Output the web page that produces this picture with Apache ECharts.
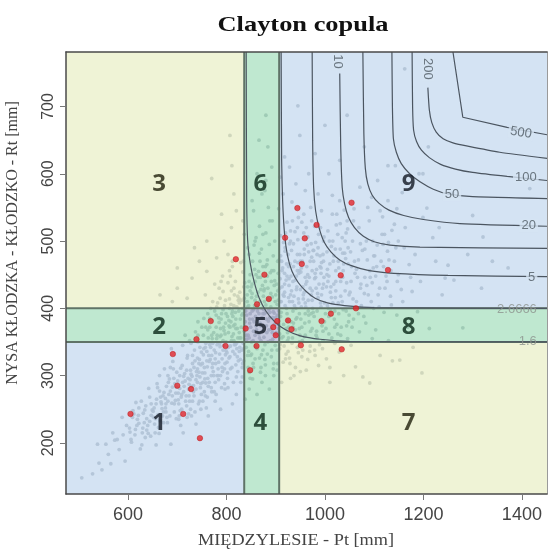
<!DOCTYPE html>
<html>
<head>
<meta charset="utf-8">
<script src="https://cdn.jsdelivr.net/npm/echarts@6/dist/echarts.min.js"></script>
<style>
  html, body { margin: 0; padding: 0; background: #ffffff; }
  #chart { width: 548px; height: 552px; }
</style>
</head>
<body>
<div id="chart"></div>
<script>
// Axis extents and tick marks (mm)
const xRange = [474, 1451];
const yRange = [124, 781];
const xTicks = [600, 800, 1000, 1200, 1400];
const yTicks = [200, 300, 400, 500, 600, 700];

// Quantile thresholds splitting the plane into nine zones
const xCuts = [836, 907];
const yCuts = [350, 400];

// Zone numbers, rows listed bottom to top, columns left to right
const zoneNames = [['1', '4', '7'], ['2', '5', '8'], ['3', '6', '9']];
const zoneLabelX = [663, 869, 1170];
const zoneLabelY = [229, 372, 584];

// Pairs simulated from the fitted Clayton copula
const simulated = [
  [506,148],[528,154],[541,170],[538,198],[547,160],
  [565,169],[555,198],[573,204],[560,183],[569,215],
  [594,173],[582,190],[590,212],[597,226],[578,205],[588,238],
  [625,191],[614,212],[603,222],[619,235],[610,248],[607,201],[622,229],[616,260],[604,216],[612,243],
  [628,197],[641,214],[633,230],[647,241],[636,255],[644,268],[630,222],[649,249],[638,236],[642,281],[635,208],[627,262],
  [657,197],[662,223],[670,240],[653,252],[667,261],[673,275],[659,288],[665,233],[651,247],[671,270],[664,300],[655,215],[668,258],[660,282],[674,310],
  [687,198],[680,230],[694,246],[677,258],[690,270],[698,283],[684,295],[692,310],[679,238],[696,263],[686,277],[682,290],[699,305],[691,321],[676,252],[688,340],
  [712,215],[704,240],[719,255],[708,268],[723,280],[701,292],[715,303],[710,315],[721,330],[706,248],[717,262],[702,274],[724,287],[713,299],[707,311],[720,326],[711,345],[716,360],[703,235],
  [738,228],[727,250],[745,262],[733,276],[748,288],[730,299],[741,310],[736,322],[749,335],[728,348],[743,258],[734,270],[747,282],[726,294],[739,306],[744,318],[731,330],[746,342],[737,365],[742,380],[729,240],[740,300],
  [763,240],[752,262],[770,276],[758,289],[774,300],[755,312],[767,324],[760,336],[772,348],[753,360],[766,372],[761,268],[769,282],[756,295],[773,306],[751,318],[764,330],[757,342],[771,355],[762,368],[754,385],[768,400],[759,252],[765,290],[757,420],
  [788,250],[779,272],[796,288],[783,300],[791,312],[777,325],[799,337],[786,348],[781,360],[794,372],[789,384],[776,396],[797,280],[784,294],[792,306],[778,318],[798,331],[787,343],[780,355],[795,367],[785,379],[790,392],[782,408],[793,425],[777,262],[789,440],
  [812,258],[803,282],[820,298],[808,310],[824,322],[801,334],[816,346],[811,358],[822,370],[805,382],[818,394],[809,406],[823,418],[814,290],[802,304],[819,316],[807,328],[821,340],[810,352],[804,364],[817,376],[813,388],[806,400],[824,412],[815,430],[808,448],[820,272],[812,462],[803,480],
  [838,265],[829,290],[846,305],[833,318],[849,330],[827,342],[841,354],[836,366],[847,378],[831,390],[843,402],[826,414],[848,426],[837,438],[832,298],[844,312],[828,324],[845,336],[834,348],[840,360],[830,372],[847,384],[839,396],[826,408],[842,420],[835,432],[848,450],[829,468],[843,490],[836,510],[846,280],[833,530],
  [862,272],[853,295],[870,312],[858,325],[874,338],[851,350],[866,362],[860,374],[872,386],[855,398],[868,410],[852,422],[873,434],[864,446],[857,458],[869,305],[854,318],[871,331],[859,344],[867,356],[861,368],[856,380],[874,392],[863,404],[851,416],[870,428],[858,440],[865,455],[853,470],[871,488],[860,505],[867,522],[855,545],[872,570],[862,600],
  [887,280],[879,300],[896,318],[883,332],[899,345],[876,357],[891,369],[885,381],[897,393],[880,405],[893,417],[877,429],[898,441],[889,453],[882,465],[895,310],[878,324],[892,338],[884,350],[900,362],[881,374],[894,386],[886,398],[877,410],[890,422],[897,434],[883,448],[879,462],[895,478],[887,495],[880,512],[893,530],[885,550],[878,575],[892,610],[884,640],
  [912,290],[903,308],[920,325],[908,340],[924,352],[901,364],[916,376],[910,388],[922,400],[905,412],[918,424],[902,436],[923,448],[914,460],[907,472],[919,485],[904,318],[921,332],[909,346],[915,358],[906,370],[924,382],[911,394],[903,406],[917,418],[908,430],[921,442],[913,456],[904,470],[919,490],[910,508],[923,528],[906,548],[915,570],[909,595],[918,625],
  [937,300],[929,318],[946,334],[933,348],[949,360],[926,372],[941,384],[935,396],[947,408],[930,420],[943,432],[927,444],[948,456],[939,470],[932,486],[945,502],[928,326],[944,342],[934,356],[940,368],[931,380],[948,392],[938,404],[926,416],[942,428],[935,440],[947,452],[929,466],[944,480],[936,496],[930,515],[946,535],[933,558],[941,585],[928,610],
  [962,308],[953,328],[970,344],[958,358],[974,370],[951,384],[966,396],[960,408],[972,420],[955,432],[968,446],[952,460],[973,476],[964,494],[957,512],[969,336],[954,352],[971,366],[959,378],[967,390],[961,402],[956,414],[974,426],[963,440],[951,454],[970,470],[958,488],[965,506],[953,528],[971,550],[960,575],[967,600],
  [987,315],[979,338],[996,352],[983,366],[999,380],[976,394],[991,408],[985,422],[997,436],[980,452],[993,468],[977,486],[998,506],[989,346],[982,360],[994,374],[978,388],[992,402],[986,416],[995,430],[981,446],[990,462],[984,480],[997,500],[979,522],[993,545],[986,570],
  [1010,290],[1003,325],[1020,348],[1008,362],[1024,376],[1001,392],[1016,408],[1011,424],[1022,440],[1005,458],[1018,478],[1009,500],[1023,524],[1014,356],[1002,370],[1019,384],[1007,400],[1021,416],[1012,432],[1004,450],[1017,470],[1013,492],[1006,515],[1024,540],[1015,568],[1008,600],
  [1038,300],[1029,335],[1046,355],[1033,372],[1049,390],[1027,408],[1041,426],[1036,446],[1047,466],[1031,488],[1043,512],[1026,362],[1048,380],[1037,398],[1032,418],[1044,438],[1028,460],[1040,482],[1035,505],[1045,530],[1030,560],
  [1062,313],[1053,345],[1070,365],[1058,384],[1074,404],[1051,424],[1066,446],[1060,470],[1072,496],[1055,372],[1068,392],[1057,414],[1073,436],[1064,458],[1052,484],[1069,520],[1059,548],[1071,580],
  [1091,289],[1077,298],[1096,355],[1083,378],[1099,400],[1080,422],[1092,446],[1086,472],[1097,500],[1079,388],[1094,410],[1085,434],[1098,460],[1081,488],[1090,530],[1095,565],
  [1112,330],[1103,368],[1120,394],[1108,420],[1124,448],[1101,478],[1116,510],[1110,402],[1122,430],[1105,462],[1118,495],[1112,545],[1107,590],
  [1137,322],[1129,352],[1146,390],[1133,418],[1149,450],[1127,485],[1141,525],[1135,405],[1147,440],[1130,472],[1128,560],[1143,612],
  [1152,323],[1168,372],[1158,410],[1174,446],[1161,490],[1155,428],[1171,465],[1163,520],[1157,572],
  [1197,304],[1179,342],[1188,395],[1194,440],[1183,480],[1177,425],[1199,535],[1191,600],
  [1212,370],[1238,420],[1225,470],[1207,549],[1244,445],[1219,505],[1232,520],
  [1280,371],[1262,442],[1250,464],[1290,480],[1260,572],[1300,538],
  [1318,430],[1321,506],[1340,470],[1416,578],[1372,460],
  [945,701],[1045,687],[1162,756],[949,657],[1000,672],[880,687],[866,650],[807,657],[811,612],[770,593],
  [1210,640],[1080,640],[980,630],[1030,620],[1128,612],[1199,600],
  [700,430],[730,445],[745,470],[760,455],[690,410],[720,415],[780,475],[795,500],[810,520],[820,545],
  [760,500],[735,490],[665,420],[700,460],[790,540],[815,570],
  [606,205],[618,226],[631,244],[644,232],[622,252],[638,219],[609,238],[647,258],
  [654,228],[661,242],[669,251],[676,266],[683,272],[695,288],[658,265],[672,246],[689,259],[697,274],[664,277],[681,300],[693,296],[656,236],[678,284],[686,312],
  [703,258],[709,272],[714,284],[722,296],[727,308],[733,285],[738,294],[744,305],[748,316],[705,281],[718,270],[725,262],[731,318],[741,326],[746,298],[711,290],[719,308],[735,338],[742,350],[749,272],[729,284],[736,246],[707,226],[723,243],
  [752,290],[756,304],[761,313],[765,321],[770,330],[775,338],[781,346],[786,332],[791,325],[797,318],[753,331],[758,348],[763,356],[768,342],[774,364],[779,372],[784,386],[789,360],[793,352],[798,378],[755,276],[762,296],[771,312],[777,290],[783,310],[788,300],[794,345],[799,392],[766,385],[780,402],[787,415],[796,404],
  [801,320],[804,342],[807,372],[811,392],[815,404],[819,370],[823,356],[828,384],[832,400],[836,415],[841,390],[845,404],[849,372],[802,388],[806,414],[810,426],[814,374],[818,346],[822,328],[827,356],[831,338],[835,322],[840,342],[844,360],[848,392],[803,438],[809,380],[816,420],[825,396],[830,412],[838,380],[846,440],[813,336],[821,402],[833,454],[843,432],
  [851,332],[855,366],[859,388],[863,396],[868,378],[872,400],[877,392],[881,384],[886,368],[890,402],[895,395],[899,410],[853,384],[857,404],[861,418],[866,392],[870,374],[875,418],[879,440],[884,430],[888,386],[893,364],[897,376],[852,436],[858,412],[864,424],[869,446],[874,462],[880,394],[886,412],[891,440],[896,456],[854,352],[862,340],[878,346],[889,352],[873,366],[883,472],[867,482],[856,494],
  [902,380],[906,396],[911,410],[915,420],[919,404],[923,392],[928,410],[932,426],[937,418],[941,400],[946,414],[950,428],[904,426],[909,444],[913,432],[918,452],[922,466],[927,434],[931,448],[936,462],[940,442],[945,468],[949,480],[905,452],[910,478],[916,498],[920,512],[925,480],[930,500],[934,530],[939,514],[944,520],[903,390],[908,362],[917,344],[926,356],[935,372],[943,386],[948,350],[921,370],
  [952,402],[956,420],[961,436],[965,450],[970,430],[974,412],[979,444],[983,458],[988,436],[992,452],[997,470],[954,470],[958,480],[963,462],[967,484],[972,496],[977,470],[981,498],[986,490],[991,520],[996,480],[953,372],[960,392],[968,380],[975,400],[984,396],[993,420],[999,408],[957,540],[973,530],[987,510],[962,520],
  [1003,432],[1008,448],[1013,416],[1018,436],[1022,456],[1027,470],[1032,440],[1037,456],[1042,474],[1047,490],[1004,484],[1010,466],[1016,500],[1021,488],[1026,510],[1031,526],[1036,482],[1041,500],[1046,518],[1005,404],[1012,396],[1020,372],[1028,392],[1035,410],[1043,396],[1049,420],[1015,540],[1039,546],
  [1053,440],[1061,452],[1068,472],[1076,486],[1084,500],[1091,456],[1099,478],[1106,494],[1114,470],[1121,510],[1129,498],[1136,516],[1144,490],[1056,500],[1064,410],[1072,430],[1081,446],[1088,420],[1096,438],[1103,448],[1111,430],[1119,462],[1126,440],[1134,456],[1141,470],[1149,500],[1058,530],[1087,550],[1117,536],[1146,548],
  [615,220],[621,241],[629,215],[634,249],[640,226],[646,210],[652,238],[657,258],[663,214],[666,268],[672,230],[677,246],[681,262],[685,240],[690,283],[694,258],[698,236],[702,264],[705,300],[709,250],
  [713,276],[716,292],[720,238],[724,270],[728,302],[731,262],[734,312],[738,280],[741,290],[745,324],[748,250],[751,304],[754,340],[757,270],[760,322],[763,284],[766,346],[769,300],[772,318],[775,276],
  [778,334],[781,300],[784,320],[787,358],[790,282],[793,338],[796,310],[799,350],[802,296],[805,326],[808,344],[811,312],[814,362],[817,332],[820,348],[823,306],[826,336],[829,356],[832,312],[835,340],
  [725,352],[742,360],[758,372],[770,360],[779,390],[788,370],[797,362],[805,374],[812,396],[819,384],[826,364],[833,392],[762,392],[750,372],[793,398],[815,352],
  [772,410],[785,430],[798,412],[806,456],[818,440],[827,424],[834,470],[792,448],[776,436],[812,470],
  [840,372],[846,356],[852,396],[858,360],[864,384],[870,352],[876,398],[882,364],[888,394],[894,354],[900,386],[905,376],[843,330],[855,312],[867,326],[879,316],[891,328],[903,338],[848,296],[872,290],[896,300],
  [842,410],[850,432],[860,450],[868,470],[876,426],[884,414],[892,456],[900,420],[846,480],[858,500],[874,510],[888,530],[898,500],[852,560],[880,590],
  [910,410],[918,436],[926,462],[934,410],[942,448],[950,470],[958,424],[966,412],[974,456],[982,430],[990,478],[998,446],[912,470],[928,496],[944,456],[960,446],[976,486],[992,460],[1006,440],[1022,426],[1038,466],[1054,462],
  [912,356],[924,364],[936,378],[948,370],[960,360],[972,392],[984,356],[996,366],[1008,388],[1020,396],[1032,360],[1044,374],
  [915,320],[925,336],[940,312],[955,338],[965,324],[980,330],[995,340],[1010,312],[930,296],[950,306]
];

// Observed annual pairs
const observed = [
  [944,549],[919,505],[959,504],[983,524],[1054,557],[819,473],[877,450],[886,414],[862,406],[953,466],
  [768,381],[739,354],[798,344],[839,370],[895,372],[903,381],[900,360],[925,382],[932,369],[951,345],
  [861,344],[691,332],[848,308],[700,285],[728,280],[712,243],[605,243],[746,207],[1032,449],[1128,457],
  [1063,400],[1012,392],[993,381],[1034,339]
];

// Joint return-period isolines (years)
const contourLevels = ['1.6', '2.6666', '5', '10', '20', '50', '100', '200', '500'];
const iso1_6 = [[840,781],[841,560],[843,500],[848,468],[856,440],[866,416],[880,396],[898,380],[920,368],[950,359],[990,354],[1050,351],[1451,350]];
const iso2_67 = [[911,781],[912,620],[914,560],[918,510],[924,478],[933,455],[946,438],[962,425],[980,415],[1005,408],[1040,404],[1100,401],[1451,400]];
const iso5 = [[974,781],[975,650],[977,580],[981,545],[988,520],[998,499],[1012,484],[1030,472],[1055,463],[1090,456],[1140,452],[1250,449],[1451,447]];
const iso10 = [[1030,749],[1032,640],[1035,580],[1040,555],[1048,535],[1060,520],[1078,507],[1100,499],[1132,494],[1193,491],[1451,489]];
const iso20 = [[1077,781],[1079,660],[1082,608],[1087,585],[1096,568],[1110,556],[1130,546],[1160,538],[1200,532],[1274,526],[1451,522]];
const iso50 = [[1136,781],[1137,700],[1139,652],[1145,632],[1155,615],[1172,600],[1193,588],[1220,577],[1250,570],[1300,566],[1451,563]];
const iso100 = [[1177,781],[1178,700],[1180,665],[1186,648],[1196,635],[1212,624],[1235,614],[1265,607],[1300,602],[1370,596],[1451,590]];
const iso200 = [[1209,728],[1212,695],[1217,676],[1226,662],[1240,652],[1260,646],[1290,641],[1355,632],[1451,623]];
const iso500 = [[1260,781],[1280,684],[1370,669],[1451,658]];
const isolines = [iso1_6, iso2_67, iso5, iso10, iso20, iso50, iso100, iso200, iso500];

// Where each isoline carries its label
const isoLabelAt = [[1412,351],[1390,399],[1420,446],[1026,767],[1414,523],[1258,569],[1408,595],[1209,756],[1398,661]];

// ---- styling ----
const C_BLUE = 'rgba(183,208,235,0.6)';
const C_GREEN = 'rgba(148,217,177,0.6)';
const C_YELLOW = 'rgba(228,235,187,0.6)';
const C_LILAC = 'rgba(160,167,202,0.6)';
const zoneFill = [[C_BLUE, C_GREEN, C_YELLOW], [C_GREEN, C_LILAC, C_GREEN], [C_YELLOW, C_GREEN, C_BLUE]];
const zoneInk = [['#101622', '#092717', '#1f1f0b'], ['#092717', '#101622', '#092717'], ['#1f1f0b', '#092717', '#101622']];
const BLUE_BG = '#d4e3f3';

const colEdges = [xRange[0], xCuts[0], xCuts[1], xRange[1]];
const rowEdges = [yRange[0], yCuts[0], yCuts[1], yRange[1]];
const zoneData = [];
const zoneLabels = [];
for (let r = 0; r < 3; r++) {
  for (let c = 0; c < 3; c++) {
    zoneData.push({ value: [colEdges[c], rowEdges[r], colEdges[c + 1], rowEdges[r + 1]], fill: zoneFill[r][c] });
    zoneLabels.push({ value: [zoneLabelX[c], zoneLabelY[r]], name: zoneNames[r][c], label: { color: zoneInk[r][c] } });
  }
}

const cutData = xCuts.map(v => ['x', v]).concat(yCuts.map(v => ['y', v]));

const isoLabelStyle = {
  '1.6': { color: '#8d938e', backgroundColor: 'transparent', rotate: 0 },
  '2.6666': { color: '#8d938e', backgroundColor: 'transparent', rotate: 0 },
  '10': { rotate: -90 },
  '200': { rotate: -90 },
  '500': { rotate: -9 }
};
const isoLabelData = contourLevels.map((lv, i) => ({
  value: isoLabelAt[i],
  name: lv,
  label: Object.assign({ color: '#4f5a63', backgroundColor: BLUE_BG, rotate: 0 }, isoLabelStyle[lv] || {})
}));

const chart = echarts.init(document.getElementById('chart'), null, { renderer: 'canvas' });

const frameAxis = {
  type: 'value', min: xRange[0], max: xRange[1], z: 10,
  axisLine: { show: true, lineStyle: { color: '#4a4a4a', width: 1.5 } },
  axisTick: { show: false }, axisLabel: { show: false }, splitLine: { show: false }
};

const plainNumber = v => String(Math.round(v));

const option = {
  backgroundColor: '#ffffff',
  animation: false,
  grid: { left: 66, right: 1, top: 52, bottom: 58, containLabel: false },
  xAxis: [
    {
      type: 'value', min: xRange[0], max: xRange[1], z: 10, position: 'bottom',
      axisLine: { show: true, lineStyle: { color: '#4a4a4a', width: 1.5 } },
      axisTick: { show: true, length: 6, customValues: xTicks, lineStyle: { color: '#777' } },
      axisLabel: { show: true, customValues: xTicks, formatter: plainNumber, margin: 12, fontSize: 18, color: '#444', fontFamily: 'Liberation Sans' },
      splitLine: { show: false }
    },
    Object.assign({}, frameAxis, { position: 'top' })
  ],
  yAxis: [
    {
      type: 'value', min: yRange[0], max: yRange[1], z: 10, position: 'left',
      axisLine: { show: true, lineStyle: { color: '#4a4a4a', width: 1.5 } },
      axisTick: { show: true, length: 6, customValues: yTicks, lineStyle: { color: '#777' } },
      axisLabel: { show: true, customValues: yTicks, formatter: plainNumber, rotate: 90, margin: 9, fontSize: 16, color: '#444', fontFamily: 'Liberation Sans' },
      splitLine: { show: false }
    },
    Object.assign({}, frameAxis, { min: yRange[0], max: yRange[1], position: 'right', axisLine: { show: true, lineStyle: { color: '#9a9a9a', width: 1 } } })
  ],
  graphic: [
    { type: 'text', x: 303, y: 25, scaleX: 1.2, style: { text: 'Clayton copula', font: 'bold 22px "Liberation Serif"', fill: '#111', textAlign: 'center', textVerticalAlign: 'middle' } },
    { type: 'text', x: 296, y: 541, scaleX: 1.14, style: { text: 'MIĘDZYLESIE - Pt [mm]', font: '16px "Liberation Serif"', fill: '#444', textAlign: 'center', textVerticalAlign: 'middle' } },
    { type: 'text', x: 13, y: 243, rotation: Math.PI / 2, style: { text: 'NYSA KŁODZKA - KŁODZKO - Rt [mm]', font: '16px "Liberation Serif"', fill: '#444', textAlign: 'center', textVerticalAlign: 'middle' } }
  ],
  series: [
    {
      name: 'simulated', type: 'scatter', z: 2, silent: true, large: false,
      symbol: 'circle', symbolSize: 3.8,
      itemStyle: { color: '#a2a9b2', opacity: 0.85 },
      data: simulated
    },
    {
      name: 'zones', type: 'custom', z: 3, silent: true,
      renderItem: function (params, api) {
        const p0 = api.coord([api.value(0), api.value(1)]);
        const p1 = api.coord([api.value(2), api.value(3)]);
        return {
          type: 'rect',
          shape: { x: Math.min(p0[0], p1[0]), y: Math.min(p0[1], p1[1]), width: Math.abs(p1[0] - p0[0]), height: Math.abs(p1[1] - p0[1]) },
          style: { fill: zoneData[params.dataIndex].fill }
        };
      },
      data: zoneData.map(d => d.value)
    },
    {
      name: 'cuts', type: 'custom', z: 3.5, silent: true,
      renderItem: function (params, api) {
        const d = cutData[params.dataIndex];
        let a, b;
        if (d[0] === 'x') { a = api.coord([d[1], yRange[0]]); b = api.coord([d[1], yRange[1]]); }
        else { a = api.coord([xRange[0], d[1]]); b = api.coord([xRange[1], d[1]]); }
        return { type: 'line', shape: { x1: a[0], y1: a[1], x2: b[0], y2: b[1] }, style: { stroke: '#5f7367', lineWidth: 2 } };
      },
      data: cutData.map(d => [d[1]])
    }
  ].concat(isolines.map((pts, i) => ({
    name: 'T=' + contourLevels[i], type: 'line', z: 4, silent: true,
    data: pts, symbol: 'none', smooth: i === 8 ? false : 0.2,
    lineStyle: { color: '#4b5560', width: 1.2 }
  }))).concat([
    {
      name: 'observed', type: 'scatter', z: 5, silent: true,
      symbol: 'circle', symbolSize: 5.5,
      itemStyle: { color: '#e2262c', borderColor: '#b71c1c', borderWidth: 0.6 },
      data: observed
    },
    {
      name: 'isoLabels', type: 'scatter', z: 6, silent: true,
      symbolSize: 0, itemStyle: { color: 'transparent' },
      label: { show: true, position: 'inside', formatter: '{b}', fontSize: 13, fontFamily: 'Liberation Sans', padding: [0, 2] },
      data: isoLabelData
    },
    {
      name: 'zoneLabels', type: 'scatter', z: 6, silent: true,
      symbolSize: 0, itemStyle: { color: 'transparent' },
      label: { show: true, position: 'inside', formatter: '{b}', fontSize: 24, fontWeight: 'bold', fontFamily: 'Open Sans' },
      data: zoneLabels
    }
  ])
};

chart.setOption(option);
</script>
</body>
</html>
